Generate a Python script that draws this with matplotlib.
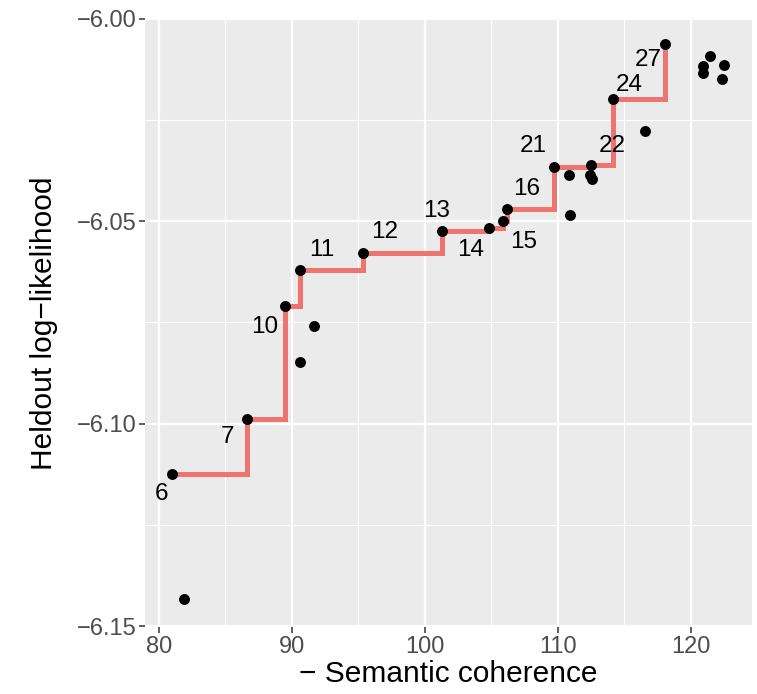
import matplotlib.pyplot as plt
from matplotlib.ticker import MultipleLocator, FuncFormatter

plt.rcParams['font.family'] = ['Liberation Sans', 'DejaVu Sans']

# frontier models (labelled, joined by the step line)
topics = [6, 7, 10, 11, 12, 13, 14, 15, 16, 21, 22, 24, 27]
coh = [80.97, 86.64, 89.48, 90.61, 95.37, 101.32, 104.84, 105.86, 106.16,
       109.74, 112.48, 114.14, 118.04]
ll = [-6.1123, -6.0988, -6.0710, -6.0621, -6.0578, -6.0525, -6.0516, -6.0500,
      -6.0471, -6.0367, -6.0361, -6.0199, -6.0063]

# the other models
other_coh = [81.90, 90.60, 91.66, 110.87, 110.93, 112.45, 112.60, 116.53,
             121.41, 120.91, 120.88, 122.46, 122.34]
other_ll = [-6.1433, -6.0848, -6.0759, -6.0387, -6.0484, -6.0385, -6.0395,
            -6.0277, -6.0093, -6.0117, -6.0134, -6.0115, -6.0148]

# label offsets in pixels (dx right, dy up)
offsets = [(-10, -20), (-20, -18), (-20, -21), (22, 20), (21, 21), (-6, 20),
           (-19, -22), (21, -21), (20, 20), (-21, 21), (21, 19), (16, 14),
           (-17, -16)]

fig = plt.figure(figsize=(7.57, 6.94), dpi=100)
ax = fig.add_axes([145 / 757, 1 - 627 / 694, 607 / 757, 608.5 / 694])
ax.set_facecolor('#EBEBEB')

ax.step(coh, ll, where='post', color='#EE7470', lw=3.6, zorder=2,
        solid_joinstyle='miter')
ax.scatter(other_coh, other_ll, s=62, color='black', zorder=3, linewidths=0)
ax.scatter(coh, ll, s=62, color='black', zorder=3, linewidths=0)

for t, x, y, (dx, dy) in zip(topics, coh, ll, offsets):
    ax.annotate(str(t), (x, y), xytext=(dx * 0.72, dy * 0.72),
                textcoords='offset points', ha='center', va='center',
                fontsize=17.5, color='black', zorder=4)

ax.set_xlim(78.95, 124.6)
ax.set_ylim(-6.1502, -5.99995)
ax.xaxis.set_major_locator(MultipleLocator(10))
ax.xaxis.set_minor_locator(MultipleLocator(5))
ax.yaxis.set_major_locator(MultipleLocator(0.05))
ax.yaxis.set_minor_locator(MultipleLocator(0.025))
ax.yaxis.set_major_formatter(FuncFormatter(lambda v, p: f'{v:.2f}'.replace('-', '−')))

ax.grid(which='major', color='white', lw=1.6, zorder=0)
ax.grid(which='minor', color='white', lw=0.8, zorder=0)
ax.set_axisbelow(True)
for s in ax.spines.values():
    s.set_visible(False)

ax.tick_params(which='major', length=4.3, width=1.1, color='#333333',
               labelcolor='#4D4D4D', labelsize=17, pad=2)
ax.tick_params(which='minor', length=0)

ax.set_xlabel('− Semantic coherence', fontsize=21.5)
ax.set_ylabel('Heldout log−likelihood', fontsize=21.5)
ax.xaxis.set_label_coords(0.5, -0.054)
ax.yaxis.set_label_coords(-0.144, 0.5)

fig.savefig('out.png', dpi=100)
